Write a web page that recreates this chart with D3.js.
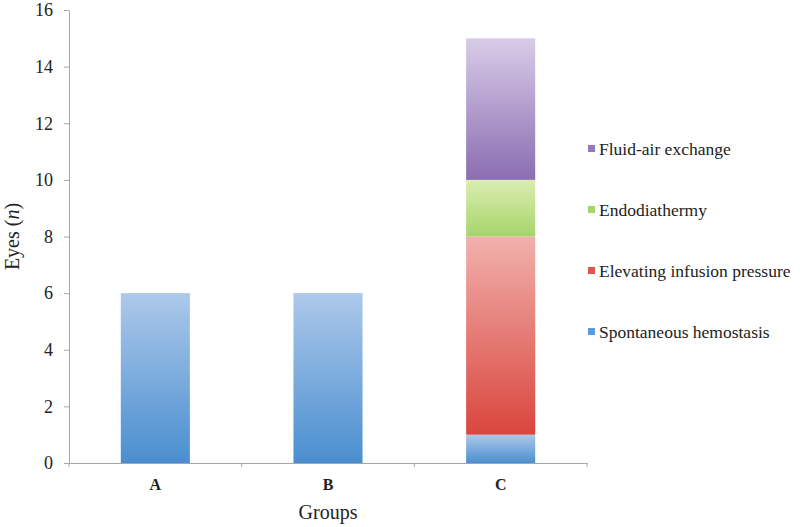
<!DOCTYPE html>
<html>
<head>
<meta charset="utf-8">
<title>Eyes by group</title>
<style>
  body { margin: 0; background: #fff; }
</style>
</head>
<body>
<div id="chart"></div>
<script src="https://d3js.org/d3.v7.min.js"></script>
<script>
// data
var groups = ["A", "B", "C"];
var seriesNames = ["Spontaneous hemostasis", "Elevating infusion pressure", "Endodiathermy", "Fluid-air exchange"];
var spontaneous = [6, 6, 1];
var elevating = [0, 0, 7];
var endodiathermy = [0, 0, 2];
var fluidAir = [0, 0, 5];
var yTicks = [0, 2, 4, 6, 8, 10, 12, 14, 16];

// colours: [top, bottom] of each gradient, plus legend square
var grads = [
  ["#adc9ea", "#4a8ed0"],
  ["#f2b0ad", "#d9463e"],
  ["#dbeeb1", "#a6d46a"],
  ["#d9cce7", "#8b6db2"]
];
var legendCols = ["#5b9bd8", "#e0564f", "#a8d46e", "#9579bd"];

var serif = "'Liberation Serif', 'Times New Roman', serif";

var width = 800, height = 527;
var margin = {left: 69, right: 213, top: 10, bottom: 64};

var rows = groups.map(function(g, i) {
  return {group: g, s0: spontaneous[i], s1: elevating[i], s2: endodiathermy[i], s3: fluidAir[i]};
});
var keys = ["s0", "s1", "s2", "s3"];
var stacked = d3.stack().keys(keys)(rows);

var svg = d3.select("#chart").append("svg")
  .attr("width", width)
  .attr("height", height);

var x = d3.scaleBand().domain(groups).range([margin.left, width - margin.right]).padding(0);
var y = d3.scaleLinear().domain([0, 16]).range([height - margin.bottom, margin.top]);

var defs = svg.append("defs");
grads.forEach(function(c, i) {
  var g = defs.append("linearGradient")
    .attr("id", "g" + i)
    .attr("x1", 0).attr("y1", 0).attr("x2", 0).attr("y2", 1);
  g.append("stop").attr("offset", "0%").attr("stop-color", c[0]);
  g.append("stop").attr("offset", "100%").attr("stop-color", c[1]);
});

var barW = x.bandwidth() * 0.4;

svg.append("g").selectAll("g")
  .data(stacked)
  .enter().append("g")
  .attr("fill", function(d, i) { return "url(#g" + i + ")"; })
  .selectAll("rect")
  .data(function(d) { return d.filter(function(p) { return p[1] - p[0] > 0; }); })
  .enter().append("rect")
  .attr("x", function(d) { return x(d.data.group) + (x.bandwidth() - barW) / 2; })
  .attr("y", function(d) { return y(d[1]); })
  .attr("width", barW)
  .attr("height", function(d) { return y(d[0]) - y(d[1]); });

// y axis
var yAxis = svg.append("g")
  .attr("transform", "translate(" + margin.left + ",0)")
  .call(d3.axisLeft(y).tickValues(yTicks).tickSize(5).tickPadding(11).tickSizeOuter(0));
yAxis.select(".domain").attr("stroke", "#a6a6a6");
yAxis.selectAll(".tick line").attr("stroke", "#a6a6a6");
yAxis.selectAll("text")
  .style("font-family", serif).style("font-size", "18px").attr("fill", "#222");

// x axis
var xBottom = y(0);
var xAxis = svg.append("g")
  .attr("transform", "translate(0," + xBottom + ")")
  .call(d3.axisBottom(x).tickSize(0).tickPadding(16));
xAxis.select(".domain").attr("stroke", "#a6a6a6");
xAxis.selectAll("text")
  .style("font-family", serif).style("font-size", "16px").style("font-weight", "bold").attr("fill", "#222");
// tick marks at band edges
var edges = groups.map(function(g) { return x(g); }).concat([x(groups[groups.length - 1]) + x.bandwidth()]);
xAxis.selectAll("line.edge")
  .data(edges)
  .enter().append("line")
  .attr("class", "edge")
  .attr("x1", function(d) { return d; }).attr("x2", function(d) { return d; })
  .attr("y1", 0).attr("y2", 4)
  .attr("stroke", "#a6a6a6");

// axis titles
svg.append("text")
  .attr("x", x(groups[1]) + x.bandwidth() / 2)
  .attr("y", 519)
  .attr("text-anchor", "middle")
  .style("font-family", serif).style("font-size", "20px")
  .attr("fill", "#222")
  .text("Groups");

var yt = svg.append("text")
  .attr("transform", "translate(19," + y(8) + ") rotate(-90)")
  .attr("text-anchor", "middle")
  .style("font-family", serif).style("font-size", "20px")
  .attr("fill", "#222");
yt.append("tspan").text("Eyes (");
yt.append("tspan").style("font-style", "italic").text("n");
yt.append("tspan").text(")");

// legend, top entry is last series
var legendY = [150, 211, 272, 333];
var legend = svg.append("g").selectAll("g")
  .data(seriesNames.slice().reverse())
  .enter().append("g")
  .attr("transform", function(d, i) { return "translate(588," + legendY[i] + ")"; });
legend.append("rect")
  .attr("x", 0).attr("y", -5)
  .attr("width", 7).attr("height", 7)
  .attr("fill", function(d, i) { return legendCols[3 - i]; });
legend.append("text")
  .attr("x", 11).attr("y", 5)
  .style("font-family", serif).style("font-size", "17.5px")
  .attr("fill", "#222")
  .text(function(d) { return d; });
</script>
</body>
</html>
